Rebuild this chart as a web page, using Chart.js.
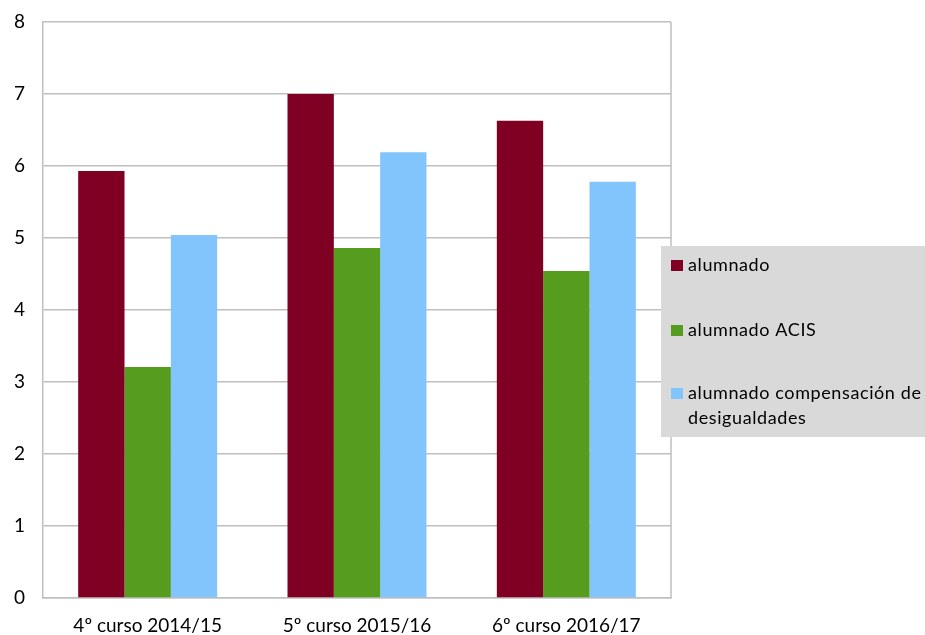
<!DOCTYPE html>
<html>
<head>
<meta charset="utf-8">
<script src="https://cdn.jsdelivr.net/npm/chart.js@4.4.0/dist/chart.umd.min.js"></script>
<style>
  html, body { margin: 0; padding: 0; background: #fff; }
  #wrap { width: 925px; height: 635px; }
</style>
</head>
<body>
<div id="wrap"><canvas id="c" width="925" height="635"></canvas></div>
<script>
const categories = ['4º curso 2014/15', '5º curso 2015/16', '6º curso 2016/17'];
const alumnado = [5.93, 7.0, 6.63];
const alumnadoACIS = [3.21, 4.86, 4.54];
const alumnadoCompensacion = [5.04, 6.19, 5.78];
const seriesNames = ['alumnado', 'alumnado ACIS', ['alumnado compensación de', 'desigualdades']];
const yTicks = [0, 1, 2, 3, 4, 5, 6, 7, 8];

const FONT = 'Lato, "Open Sans", sans-serif';

// legend box drawn over the right side, like the original
const boxLegend = {
  id: 'boxLegend',
  afterDraw(chart) {
    const ctx = chart.ctx;
    const a = chart.chartArea;
    ctx.save();
    // right border of plot
    ctx.strokeStyle = '#bfbfbf';
    ctx.lineWidth = 1.5;
    ctx.beginPath();
    ctx.moveTo(a.right, a.top);
    ctx.lineTo(a.right, a.bottom);
    ctx.stroke();

    ctx.fillStyle = '#d9d9d9';
    ctx.fillRect(661, 246, 264, 191);
    ctx.font = '18px ' + FONT;
    ctx.letterSpacing = '0.6px';
    ctx.textBaseline = 'middle';
    const rows = [265, 330, 393];
    chart.data.datasets.forEach((ds, i) => {
      ctx.fillStyle = ds.backgroundColor;
      ctx.fillRect(671, rows[i] - 5, 12, 11);
      ctx.fillStyle = '#000';
      const lines = Array.isArray(ds.label) ? ds.label : [ds.label];
      lines.forEach((t, j) => ctx.fillText(t, 688, rows[i] + j * 25));
    });
    ctx.restore();
  }
};

new Chart(document.getElementById('c'), {
  type: 'bar',
  data: {
    labels: categories,
    datasets: [
      { label: seriesNames[0], data: alumnado, backgroundColor: '#7f0022' },
      { label: seriesNames[1], data: alumnadoACIS, backgroundColor: '#569c1f' },
      { label: seriesNames[2], data: alumnadoCompensacion, backgroundColor: '#82c5fc' }
    ]
  },
  options: {
    responsive: false,
    animation: false,
    layout: { padding: { left: 0, right: 254, top: 22, bottom: 0 } },
    plugins: { legend: { display: false }, tooltip: { enabled: false } },
    datasets: { bar: { barPercentage: 1, categoryPercentage: 0.664 } },
    scales: {
      x: {
        grid: { display: false, drawTicks: false },
        border: { color: '#bfbfbf', width: 1.5 },
        ticks: { color: '#000', font: { family: FONT, size: 19 }, padding: 16 },
        afterFit(s) { s.height = 37; s.paddingLeft = 0; s.paddingRight = 0; }
      },
      y: {
        min: 0, max: 8,
        afterBuildTicks(s) { s.ticks = yTicks.map(v => ({ value: v })); },
        grid: { color: '#bfbfbf', lineWidth: 1.5, drawTicks: false },
        border: { color: '#bfbfbf', width: 1.5 },
        ticks: { color: '#000', font: { family: FONT, size: 19 }, padding: 18 },
        afterFit(s) { s.width = 43; s.paddingTop = 0; s.paddingBottom = 0; }
      }
    }
  },
  plugins: [boxLegend]
});
</script>
</body>
</html>
